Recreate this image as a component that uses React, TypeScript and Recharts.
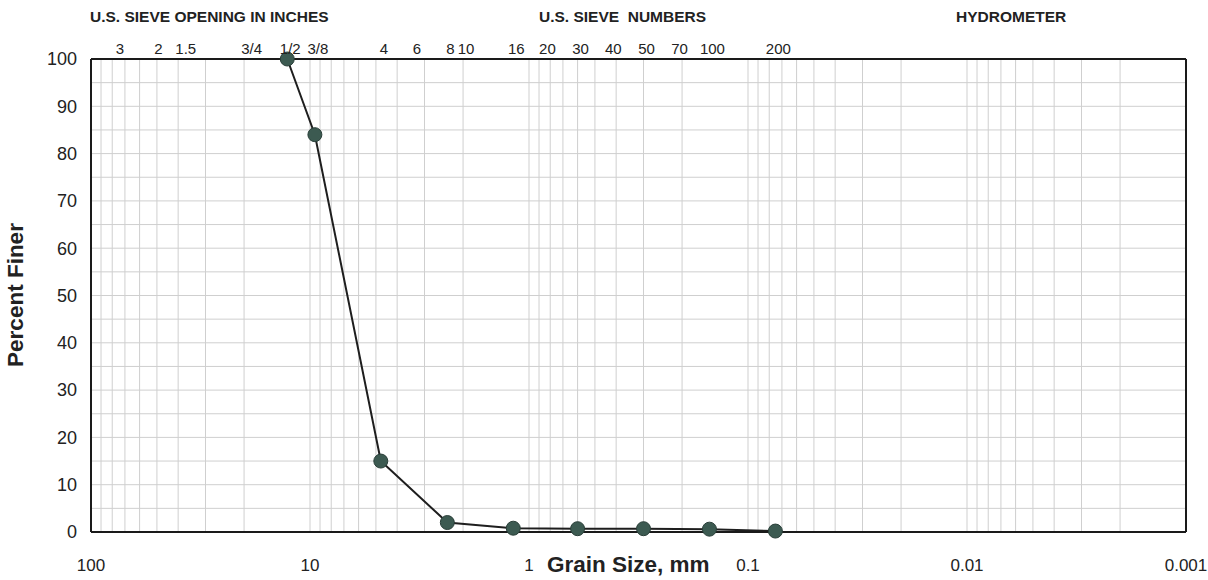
import { CartesianGrid, Line, LineChart, XAxis, YAxis } from "recharts";

// sieve analysis results
const grainSize = [12.7, 9.5, 4.75, 2.36, 1.18, 0.6, 0.3, 0.15, 0.075];
const percentFiner = [100, 84, 15, 2, 0.8, 0.7, 0.7, 0.6, 0.2];

// top axis: sieve openings (mm) and their names
const sieveSizes = [
  76.2, 50.8, 38.1, 19.05, 12.7, 9.5, 4.75, 3.35, 2.36, 2.0, 1.18, 0.85, 0.6,
  0.425, 0.3, 0.212, 0.15, 0.075,
];
const sieveLabels = [
  "3", "2", "1.5", "3/4", "1/2", "3/8", "4", "6", "8", "10", "16", "20", "30",
  "40", "50", "70", "100", "200",
];

// bottom axis decades and log-paper multipliers
const decades = [100, 10, 1, 0.1, 0.01];
const decadeLabels = ["100", "10", "1", "0.1", "0.01", "0.001"];
const multipliers = [0.1, 0.2, 0.3, 0.4, 0.5, 0.6, 0.7, 0.8, 0.9, 1];

const percentTicks = [
  0, 5, 10, 15, 20, 25, 30, 35, 40, 45, 50, 55, 60, 65, 70, 75, 80, 85, 90, 95,
  100,
];

const data = grainSize.map((size, i) => ({ size, finer: percentFiner[i] }));

const gridTicks = Array.from(
  new Set([
    0.001,
    ...decades.flatMap((d) => multipliers.map((m) => +(m * d).toPrecision(3))),
  ]),
);

const isDecade = (v: number) => {
  const l = Math.log10(v);
  return Math.abs(l - Math.round(l)) < 1e-6;
};

const FONT = "'Liberation Sans', Arial, sans-serif";
const INK = "#222";

const header = (left: number, text: string) => (
  <div
    style={{
      position: "absolute",
      left,
      top: 8,
      fontFamily: FONT,
      fontWeight: "bold",
      fontSize: 15.5,
      color: INK,
      whiteSpace: "pre",
    }}
  >
    {text}
  </div>
);

export default function App() {
  return (
    <div
      style={{
        position: "absolute",
        left: 0,
        top: 0,
        width: 1208,
        height: 580,
        background: "#fff",
      }}
    >
      {header(90, "U.S. SIEVE OPENING IN INCHES")}
      {header(539, "U.S. SIEVE  NUMBERS")}
      {header(956, "HYDROMETER")}
      <div
        style={{
          position: "absolute",
          left: 547,
          top: 552,
          fontFamily: FONT,
          fontWeight: "bold",
          fontSize: 22.5,
          color: INK,
        }}
      >
        Grain Size, mm
      </div>
      <div
        style={{
          position: "absolute",
          left: 16,
          top: 295,
          transform: "translate(-50%, -50%) rotate(-90deg)",
          fontFamily: FONT,
          fontWeight: "bold",
          fontSize: 22.5,
          color: INK,
          whiteSpace: "nowrap",
        }}
      >
        Percent Finer
      </div>
      <LineChart
        width={1208}
        height={580}
        data={data}
        margin={{ top: 0, right: 0, bottom: 0, left: 0 }}
        style={{ fontFamily: FONT }}
      >
        <CartesianGrid stroke="#cfcfcf" strokeWidth={1} />
        <XAxis
          dataKey="size"
          type="number"
          scale="log"
          domain={[0.001, 100]}
          reversed
          allowDataOverflow
          ticks={gridTicks}
          interval={0}
          tickLine={false}
          tickSize={0}
          tickMargin={27}
          height={48}
          tickFormatter={(v: number) =>
            isDecade(v) ? decadeLabels[Math.round(2 - Math.log10(v))] : ""
          }
          tick={{ fill: INK, fontSize: 17 }}
          axisLine={{ stroke: "#1a1a1a", strokeWidth: 2 }}
        />
        <XAxis
          xAxisId="top"
          orientation="top"
          dataKey="size"
          type="number"
          scale="log"
          domain={[0.001, 100]}
          reversed
          allowDataOverflow
          ticks={sieveSizes}
          interval={0}
          tickLine={false}
          tickSize={0}
          tickMargin={5}
          height={59}
          tickFormatter={(_v: number, i: number) => sieveLabels[i]}
          tick={{ fill: INK, fontSize: 15, dx: 3 }}
          axisLine={{ stroke: "#1a1a1a", strokeWidth: 2 }}
        />
        <YAxis
          type="number"
          domain={[0, 100]}
          ticks={percentTicks}
          interval={0}
          tickLine={false}
          tickSize={0}
          tickMargin={14}
          width={91}
          tickFormatter={(v: number) => (v % 10 === 0 ? String(v) : "")}
          tick={{ fill: INK, fontSize: 18 }}
          axisLine={{ stroke: "#1a1a1a", strokeWidth: 2 }}
        />
        <YAxis
          yAxisId="right"
          orientation="right"
          domain={[0, 100]}
          width={22}
          tick={false}
          tickLine={false}
          axisLine={{ stroke: "#1a1a1a", strokeWidth: 2 }}
        />
        <Line
          dataKey="finer"
          stroke="#1e1e1e"
          strokeWidth={2}
          isAnimationActive={false}
          dot={{ r: 7, fill: "#3c5a51", stroke: "#2a3f39", strokeWidth: 1 }}
        />
      </LineChart>
    </div>
  );
}
